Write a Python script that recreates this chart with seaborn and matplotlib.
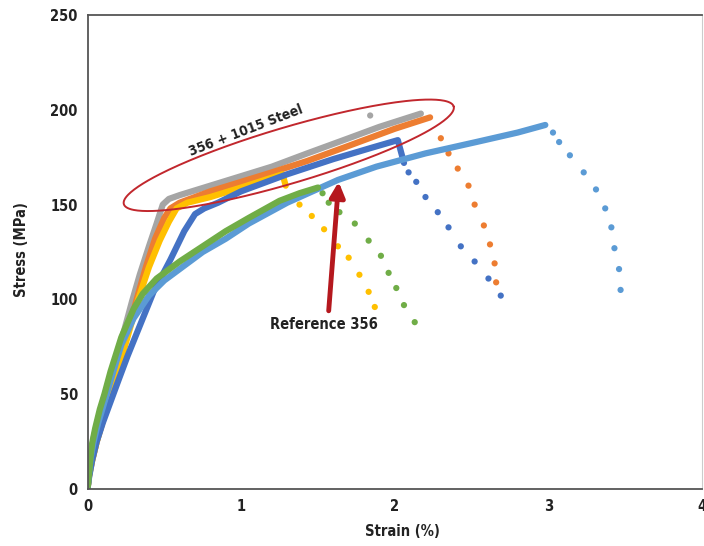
import numpy as np
import pandas as pd
import matplotlib
matplotlib.use("Agg")
import matplotlib.pyplot as plt
import seaborn as sns

# solid (loading) part of each stress-strain curve: strain %, stress MPa
gray_strain = [0, 0.01, 0.02, 0.04, 0.07, 0.1, 0.14, 0.19, 0.24, 0.29, 0.34, 0.4, 0.45, 0.49,
               0.53, 0.6, 0.8, 1.0, 1.2, 1.43, 1.7, 1.9, 2.17]
gray_stress = [0, 8, 16, 27, 37, 46, 57, 70, 84, 99, 113, 128, 140, 150,
               153, 155, 160, 165, 170, 177, 185, 191, 198]
orange_strain = [0, 0.01, 0.03, 0.06, 0.1, 0.15, 0.2, 0.26, 0.32, 0.38, 0.44, 0.5, 0.54,
                 0.6, 0.8, 1.0, 1.2, 1.43, 1.7, 2.0, 2.23]
orange_stress = [0, 7, 15, 25, 36, 50, 64, 82, 100, 117, 132, 143, 148,
                 151, 157, 162, 167, 173, 181, 190, 196]
yellow_strain = [0, 0.01, 0.03, 0.06, 0.1, 0.15, 0.2, 0.26, 0.33, 0.4, 0.47, 0.53, 0.58,
                 0.65, 0.8, 1.0, 1.27, 1.29]
yellow_stress = [0, 7, 15, 25, 36, 50, 63, 80, 100, 117, 131, 141, 148,
                 151, 154, 159, 166, 160]
blue_strain = [0, 0.01, 0.03, 0.06, 0.1, 0.15, 0.2, 0.26, 0.33, 0.43, 0.54, 0.63, 0.7, 0.76,
               0.85, 1.0, 1.3, 1.6, 1.85, 2.02, 2.05]
blue_stress = [0, 6, 15, 25, 35, 46, 57, 70, 84, 104, 121, 136, 145, 148,
               151, 157, 166, 174, 180, 184, 175]
lblue_strain = [0, 0.01, 0.02, 0.04, 0.07, 0.1, 0.15, 0.22, 0.3, 0.4, 0.5, 0.6, 0.75, 0.9,
                1.05, 1.3, 1.63, 1.88, 2.2, 2.53, 2.8, 2.98]
lblue_stress = [0, 8, 16, 25, 35, 43, 57, 76, 90, 102, 110, 116, 125, 132,
                140, 151, 163, 170, 177, 183, 188, 192]
green_strain = [0, 0.01, 0.02, 0.03, 0.05, 0.08, 0.11, 0.15, 0.22, 0.3, 0.36, 0.45, 0.6,
                0.75, 0.9, 1.05, 1.25, 1.38, 1.5]
green_stress = [0, 8, 17, 24, 32, 42, 50, 62, 80, 95, 103, 111, 120,
                128, 136, 143, 152, 156, 159]

# dotted (failure) part
gray_dot_strain = [1.84]
gray_dot_stress = [197]
orange_dot_strain = [2.30, 2.35, 2.41, 2.48, 2.52, 2.58, 2.62, 2.65, 2.66]
orange_dot_stress = [185, 177, 169, 160, 150, 139, 129, 119, 109]
yellow_dot_strain = [1.38, 1.46, 1.54, 1.63, 1.70, 1.77, 1.83, 1.87]
yellow_dot_stress = [150, 144, 137, 128, 122, 113, 104, 96]
blue_dot_strain = [2.06, 2.09, 2.14, 2.20, 2.28, 2.35, 2.43, 2.52, 2.61, 2.69]
blue_dot_stress = [172, 167, 162, 154, 146, 138, 128, 120, 111, 102]
lblue_dot_strain = [3.03, 3.07, 3.14, 3.23, 3.31, 3.37, 3.41, 3.43, 3.46, 3.47]
lblue_dot_stress = [188, 183, 176, 167, 158, 148, 138, 127, 116, 105]
green_dot_strain = [1.53, 1.57, 1.64, 1.74, 1.83, 1.91, 1.96, 2.01, 2.06, 2.13]
green_dot_stress = [156, 151, 146, 140, 131, 123, 114, 106, 97, 88]

colors = {"gray": "#a5a5a5", "orange": "#ed7d31", "yellow": "#ffc000",
          "blue": "#4472c4", "lblue": "#5b9bd5", "green": "#70ad47"}

curves = {
    "gray": (gray_strain, gray_stress, gray_dot_strain, gray_dot_stress),
    "orange": (orange_strain, orange_stress, orange_dot_strain, orange_dot_stress),
    "yellow": (yellow_strain, yellow_stress, yellow_dot_strain, yellow_dot_stress),
    "blue": (blue_strain, blue_stress, blue_dot_strain, blue_dot_stress),
    "lblue": (lblue_strain, lblue_stress, lblue_dot_strain, lblue_dot_stress),
    "green": (green_strain, green_stress, green_dot_strain, green_dot_stress),
}

sns.set_style("white")
plt.rcParams["font.family"] = ["DejaVu Sans"]
txt = dict(fontweight="bold", fontstretch="condensed", color="#222222")

fig = plt.figure(figsize=(7.04, 5.46), dpi=100)
ax = fig.add_axes([87.5 / 704, 1 - 489 / 546, 614.5 / 704, 474 / 546])

for name, (xs, ys, dx, dy) in curves.items():
    solid = pd.DataFrame({"strain": xs, "stress": ys})
    dots = pd.DataFrame({"strain": dx, "stress": dy})
    sns.lineplot(data=solid, x="strain", y="stress", sort=False, ax=ax,
                 color=colors[name], lw=4.5, solid_capstyle="round",
                 solid_joinstyle="round")
    sns.scatterplot(data=dots, x="strain", y="stress", ax=ax,
                    color=colors[name], s=20, edgecolor="none")

ax.set_xlim(0, 4)
ax.set_ylim(0, 250)
ax.set_xticks([0, 1, 2, 3, 4])
ax.set_yticks([0, 50, 100, 150, 200, 250])
ax.tick_params(length=0, labelsize=10.5, pad=7)
for lab in ax.get_xticklabels() + ax.get_yticklabels():
    lab.set_fontweight("bold")
    lab.set_fontstretch("condensed")
    lab.set_color("#222222")
ax.set_xlabel("Strain (%)", fontsize=10.5, va="center", **txt)
ax.set_ylabel("Stress (MPa)", fontsize=10.5, va="center", **txt)
ax.xaxis.set_label_coords((402 - 87.5) / 614.5, (489 - 531) / 474)
ax.yaxis.set_label_coords((22 - 87.5) / 614.5, (489 - 250) / 474)

for side in ["left", "bottom", "top"]:
    ax.spines[side].set_color("#555555")
    ax.spines[side].set_linewidth(1.3)
ax.spines["right"].set_color("#cccccc")
ax.spines["right"].set_linewidth(0.8)

# red ellipse around the steel-insert curves (drawn in pixel space)
px_x = 614.5 / 4
px_y = 474 / 250
t = np.linspace(0, 2 * np.pi, 300)
theta = np.deg2rad(16.5)
a, b = 172, 28
ex = a * np.cos(t) * np.cos(theta) - b * np.sin(t) * np.sin(theta)
ey = a * np.cos(t) * np.sin(theta) + b * np.sin(t) * np.cos(theta)
ax.plot(1.31 + ex / px_x, 176 + ey / px_y, color="#c1272d", lw=1.4)

ax.text(1.03, 189, "356 + 1015 Steel", rotation=21, ha="center", va="center",
        fontsize=10, **txt)

ax.annotate("", xy=(1.635, 162), xytext=(1.57, 94),
            arrowprops=dict(arrowstyle="-|>", lw=3.5, color="#b5181e",
                            mutation_scale=22, shrinkA=0, shrinkB=0))
ax.text(1.54, 87, "Reference 356", ha="center", va="center", fontsize=10.5, **txt)

fig.savefig("out.png", dpi=100)
